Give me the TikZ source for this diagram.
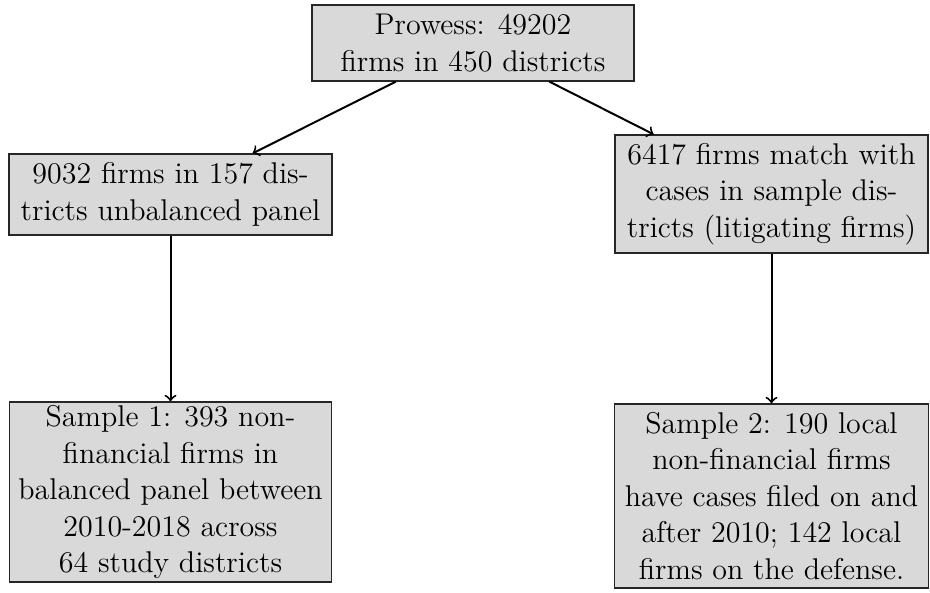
\documentclass[tikz,border=0pt]{standalone}
\usepackage{tikz}
\begin{document}
\begin{tikzpicture}[x=0.4pt,y=-0.4pt,
  boxnode/.style={draw=black!85,line width=0.5pt,fill=gray!30,align=center,
    inner sep=0pt,font=\fontsize{12}{14.6}\selectfont},
  arr/.style={->,thick}]
\useasboundingbox (0,0) rectangle (930,592);
\node[boxnode,minimum width=322*0.4pt,minimum height=76*0.4pt] (top) at (473,43)
  {Prowess: 49202\\firms in 450 districts};
\node[boxnode,minimum width=323*0.4pt,minimum height=81*0.4pt] (lm) at (170.5,194.5)
  {9032 firms in 157 dis-\\tricts unbalanced panel};
\node[boxnode,minimum width=313*0.4pt,minimum height=118*0.4pt] (rm) at (771.5,194)
  {6417 firms match with\\cases in sample dis-\\tricts (litigating firms)};
\node[boxnode,minimum width=322*0.4pt,minimum height=180*0.4pt] (lb) at (170.5,492)
  {Sample 1: 393 non-\\financial firms in\\balanced panel between\\2010-2018 across\\64 study districts};
\node[boxnode,minimum width=314*0.4pt,minimum height=184*0.4pt] (rb) at (771.5,496)
  {Sample 2: 190 local\\non-financial firms\\have cases filed on and\\after 2010; 142 local\\firms on the defense.};
\draw[arr] (top) -- (lm);
\draw[arr] (top) -- (rm);
\draw[arr] (lm) -- (lb);
\draw[arr] (rm) -- (rb);
\end{tikzpicture}
\end{document}
